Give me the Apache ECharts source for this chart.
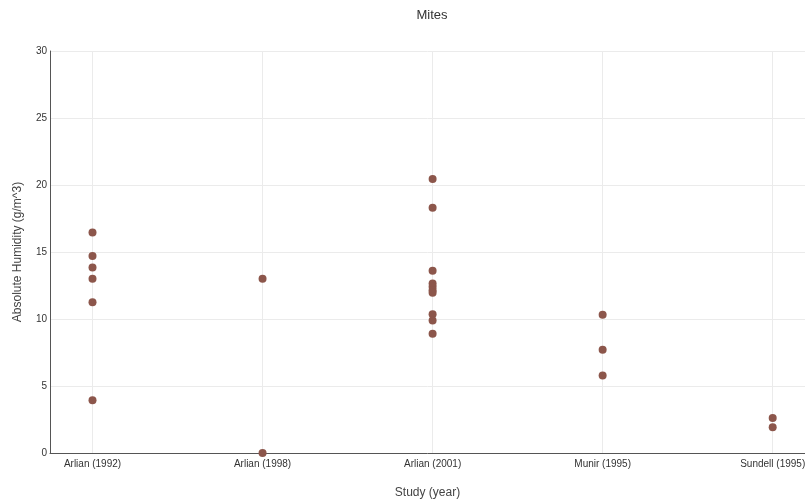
<!DOCTYPE html>
<html>
<head>
<meta charset="utf-8">
<script src="https://cdn.jsdelivr.net/npm/echarts@6/dist/echarts.min.js"></script>
<style>html,body{margin:0;padding:0;background:#fff}#c{width:805px;height:504px}</style>
</head>
<body>
<div id="c"></div>
<script>
const categories = ['Arlian (1992)', 'Arlian (1998)', 'Arlian (2001)', 'Munir (1995)', 'Sundell (1995)'];
const arlian1992 = [16.45, 14.7, 13.85, 13.0, 11.25, 3.93];
const arlian1998 = [13.0, 0.0];
const arlian2001 = [20.45, 18.3, 13.6, 12.65, 12.4, 12.15, 11.95, 10.35, 9.88, 8.9];
const munir1995 = [10.32, 7.71, 5.78];
const sundell1995 = [2.62, 1.92];
const yTicks = [0, 5, 10, 15, 20, 25, 30];

const groups = [arlian1992, arlian1998, arlian2001, munir1995, sundell1995];
const points = [];
groups.forEach((g, i) => g.forEach(v => points.push([i, v])));

const font = 'Liberation Sans';
const chart = echarts.init(document.getElementById('c'));
chart.setOption({
  animation: false,
  title: {
    text: 'Mites', left: 427, top: 4, textAlign: 'center',
    textStyle: { fontFamily: font, fontSize: 13, fontWeight: 'normal', color: '#333' }
  },
  grid: { left: 50, top: 51, right: 0, bottom: 51, containLabel: false, outerBoundsMode: 'none' },
  xAxis: {
    type: 'value', min: -0.25, max: 4.19,
    name: 'Study (year)', nameLocation: 'middle', nameGap: 34,
    nameTextStyle: { fontFamily: font, fontSize: 12, color: '#444' },
    axisLine: { show: true, onZero: false, lineStyle: { color: '#555', width: 1 } },
    axisTick: { show: false, customValues: [0, 1, 2, 3, 4] },
    axisLabel: {
      customValues: [0, 1, 2, 3, 4],
      formatter: v => categories[Math.round(v)] || '',
      fontFamily: font, fontSize: 10, color: '#333', margin: 6
    },
    splitLine: { show: true, lineStyle: { color: '#ebebeb', width: 1 } }
  },
  yAxis: {
    type: 'value', min: 0, max: 30, interval: 5,
    name: 'Absolute Humidity (g/m^3)', nameLocation: 'middle', nameGap: 26,
    nameTextStyle: { fontFamily: font, fontSize: 12, color: '#444' },
    axisLine: { show: true, onZero: false, lineStyle: { color: '#555', width: 1 } },
    axisTick: { show: false },
    axisLabel: {
      customValues: yTicks,
      fontFamily: font, fontSize: 10, color: '#333', margin: 3
    },
    splitLine: { show: true, lineStyle: { color: '#ebebeb', width: 1 } }
  },
  series: [{
    type: 'scatter',
    data: points,
    symbolSize: 8,
    itemStyle: { color: '#8c564b', opacity: 1 },
    clip: false
  }]
});
</script>
</body>
</html>
